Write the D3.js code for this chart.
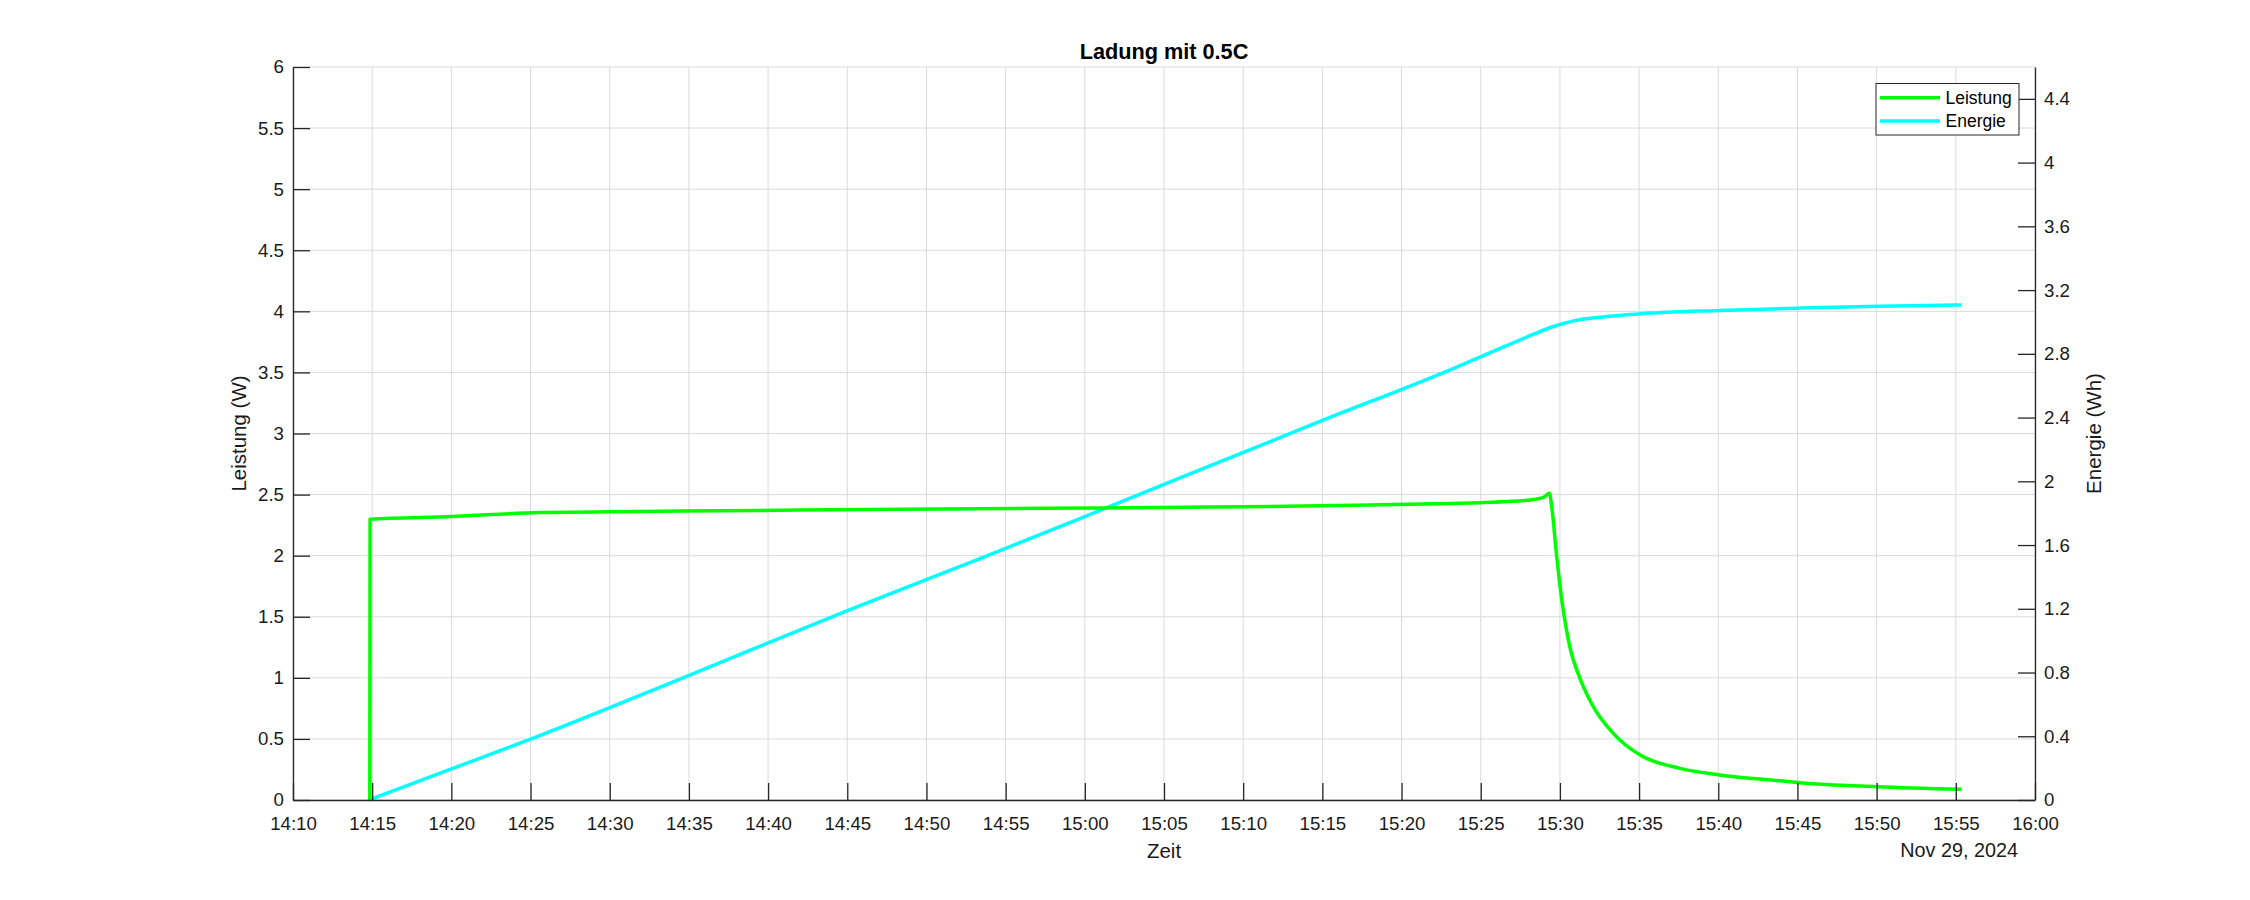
<!DOCTYPE html>
<html><head><meta charset="utf-8">
<script src="https://cdn.jsdelivr.net/npm/d3@7"></script>
<style>body{margin:0;background:#fff;}svg{display:block;font-family:"Liberation Sans",Arial,sans-serif;}</style>
</head><body>
<svg id="c" width="2250" height="900"></svg>
<script>
const day = "2024-11-29";
const xTickLabels = ["14:10","14:15","14:20","14:25","14:30","14:35","14:40","14:45","14:50","14:55","15:00","15:05","15:10","15:15","15:20","15:25","15:30","15:35","15:40","15:45","15:50","15:55","16:00"];
const leftTicks = [0,0.5,1,1.5,2,2.5,3,3.5,4,4.5,5,5.5,6];
const rightTicks = [0,0.4,0.8,1.2,1.6,2,2.4,2.8,3.2,3.6,4,4.4];

const powerTimes = ["14:14:51","14:14:52","14:20:00","14:25:36","14:34:26","14:44:00","14:53:24","15:00:58","15:10:00","15:18:00","15:23:04","15:25:00","15:27:00","15:28:06","15:29:00","15:29:20","15:29:29","15:29:48","15:30:07","15:30:38","15:31:16","15:32:07","15:33:22","15:35:04","15:37:35","15:40:06","15:43:54","15:45:10","15:50:00","15:55:22"];
const powerValues = [0,2.298,2.32,2.353,2.365,2.375,2.385,2.39,2.40,2.415,2.428,2.434,2.445,2.456,2.48,2.51,2.40,1.99,1.64,1.25,0.996,0.763,0.546,0.368,0.259,0.205,0.158,0.142,0.109,0.087];

const energyTimes = ["14:14:48","14:19:55","14:25:00","14:34:26","14:44:58","14:53:23","15:00:58","15:15:00","15:23:04","15:25:04","15:28:30","15:29:18","15:30:00","15:31:00","15:32:32","15:35:04","15:40:06","15:45:10","15:50:12","15:55:22"];
const energyValues = [0,0.192,0.382,0.759,1.187,1.515,1.818,2.382,2.70,2.784,2.93,2.962,2.984,3.010,3.030,3.051,3.072,3.087,3.099,3.107];

const parse = s => new Date(day + "T" + (s.length === 5 ? s + ":00" : s));
const svg = d3.select("#c");
const L = 293, R = 2035, T = 67, B = 800;
const x = d3.scaleTime().domain([parse("14:10"), parse("16:00")]).range([L, R]);
const yL = d3.scaleLinear().domain([0, 6]).range([B, T]);
const yR = d3.scaleLinear().domain([0, 4.6]).range([B, T]);
const fs = 18.7, lfs = 20.5, axisCol = "#262626", gridCol = "#dadada";

const xTicks = xTickLabels.map(parse);
// grid
const g = svg.append("g");
g.selectAll("line.vx").data(xTicks).join("line")
  .attr("x1", d => x(d)).attr("x2", d => x(d)).attr("y1", T).attr("y2", B)
  .attr("stroke", gridCol).attr("stroke-width", 1);
g.selectAll("line.hy").data(leftTicks).join("line")
  .attr("x1", L).attr("x2", R).attr("y1", d => yL(d)).attr("y2", d => yL(d))
  .attr("stroke", gridCol).attr("stroke-width", 1);

// lines
const pData = powerTimes.map((t, i) => ({t: parse(t), v: powerValues[i]}));
const eData = energyTimes.map((t, i) => ({t: parse(t), v: energyValues[i]}));
svg.append("path").datum(eData)
  .attr("d", d3.line().x(d => x(d.t)).y(d => yR(d.v)).curve(d3.curveMonotoneX))
  .attr("fill", "none").attr("stroke", "#00ffff").attr("stroke-width", 3.5).attr("stroke-linejoin", "round");
svg.append("path").datum(pData)
  .attr("d", d3.line().x(d => x(d.t)).y(d => yL(d.v)).curve(d3.curveMonotoneX))
  .attr("fill", "none").attr("stroke", "#00ff00").attr("stroke-width", 3.5).attr("stroke-linejoin", "round");

// axes
const ax = svg.append("g").attr("transform", `translate(0,${B})`)
  .call(d3.axisBottom(x).tickValues(xTicks).tickFormat((d, i) => xTickLabels[i]).tickSizeInner(-17).tickSizeOuter(0).tickPadding(12));
const ayl = svg.append("g").attr("transform", `translate(${L},0)`)
  .call(d3.axisLeft(yL).tickValues(leftTicks).tickFormat(d3.format("")).tickSizeInner(-17).tickSizeOuter(0).tickPadding(9));
const ayr = svg.append("g").attr("transform", `translate(${R},0)`)
  .call(d3.axisRight(yR).tickValues(rightTicks).tickFormat(d3.format("")).tickSizeInner(-17).tickSizeOuter(0).tickPadding(9));
[ax, ayl, ayr].forEach(a => {
  a.select(".domain").attr("stroke", axisCol).attr("stroke-width", 1.3);
  a.selectAll(".tick line").attr("stroke", axisCol).attr("stroke-width", 1.3);
  a.selectAll(".tick text").attr("fill", "#1a1a1a").style("font-size", fs + "px").style("font-family", '"Liberation Sans",Arial,sans-serif');
});
ax.selectAll(".tick text").attr("dy", "0.95em");

// labels
svg.append("text").attr("x", (L + R) / 2).attr("y", 59).attr("text-anchor", "middle")
  .style("font-size", "21.7px").style("font-weight", "bold").attr("fill", "#000").text("Ladung mit 0.5C");
svg.append("text").attr("x", (L + R) / 2).attr("y", 858).attr("text-anchor", "middle")
  .style("font-size", lfs + "px").attr("fill", "#1a1a1a").text("Zeit");
svg.append("text").attr("x", 2018).attr("y", 857).attr("text-anchor", "end")
  .style("font-size", "19.8px").attr("fill", "#1a1a1a").text("Nov 29, 2024");
svg.append("text").attr("transform", `translate(246,${(T + B) / 2}) rotate(-90)`).attr("text-anchor", "middle")
  .style("font-size", lfs + "px").attr("fill", "#1a1a1a").text("Leistung (W)");
svg.append("text").attr("transform", `translate(2101,${(T + B) / 2}) rotate(-90)`).attr("text-anchor", "middle")
  .style("font-size", lfs + "px").attr("fill", "#1a1a1a").text("Energie (Wh)");

// legend
const lg = svg.append("g");
lg.append("rect").attr("x", 1876).attr("y", 83.5).attr("width", 143).attr("height", 51.5)
  .attr("fill", "#fff").attr("stroke", axisCol).attr("stroke-width", 1);
const legendItems = [{name: "Leistung", color: "#00ff00", y: 97.7}, {name: "Energie", color: "#00ffff", y: 121}];
legendItems.forEach(it => {
  lg.append("line").attr("x1", 1880).attr("x2", 1940).attr("y1", it.y).attr("y2", it.y)
    .attr("stroke", it.color).attr("stroke-width", 3.5);
  lg.append("text").attr("x", 1945.5).attr("y", it.y).attr("dy", "0.35em")
    .style("font-size", "17.5px").attr("fill", "#000").text(it.name);
});
</script>
</body></html>
